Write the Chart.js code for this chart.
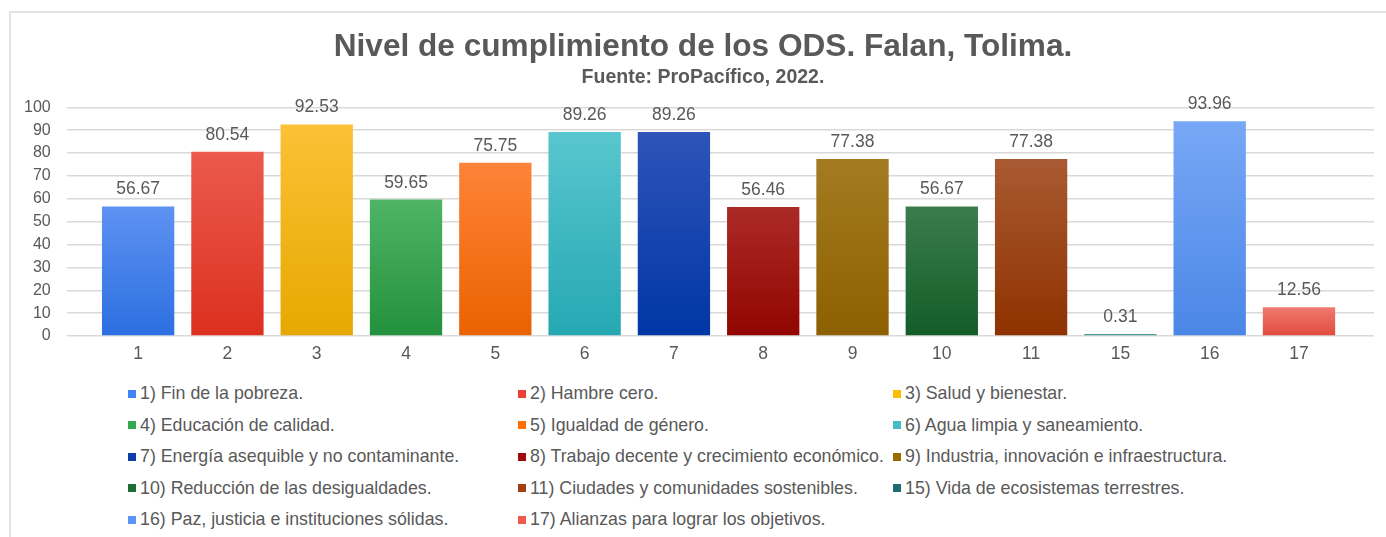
<!DOCTYPE html>
<html lang="es">
<head>
  <meta charset="UTF-8">
  <title>Nivel de cumplimiento de los ODS. Falan, Tolima.</title>
  <style>
    body {
      margin: 0;
      width: 1386px;
      height: 537px;
      background: #fff;
      font-family: "Liberation Sans", Arial, sans-serif;
      overflow: hidden;
    }
    .frame {
      position: absolute;
      left: 9px;
      top: 11px;
      right: 0;
      bottom: 0;
      border-top: 2px solid #e3e3e3;
      border-left: 2px solid #e3e3e3;
    }
    #wrap {
      position: absolute;
      left: 8px;
      top: 12px;
      width: 1402px;
      height: 363px;
    }
    #legend {
      position: absolute;
      left: 128px;
      top: 378px;
      display: grid;
      grid-template-columns: 390px 375px 420px;
      grid-auto-rows: 31.5px;
      color: #595959;
      font-size: 17.8px;
    }
    #legend .item {
      display: flex;
      align-items: center;
      white-space: nowrap;
    }
    #legend .box {
      width: 8px;
      height: 8px;
      margin-right: 4px;
      flex: none;
    }
  </style>
</head>
<body>
  <div class="frame"></div>
  <div id="wrap"><canvas id="odsChart"></canvas></div>
  <div id="legend"></div>

  <script src="https://cdn.jsdelivr.net/npm/chart.js"></script>
  <script>
    // datos
    const categories = ['1', '2', '3', '4', '5', '6', '7', '8', '9', '10', '11', '15', '16', '17'];
    const values = [56.67, 80.54, 92.53, 59.65, 75.75, 89.26, 89.26, 56.46, 77.38, 56.67, 77.38, 0.31, 93.96, 12.56];
    const legendNames = [
      '1) Fin de la pobreza.',
      '2) Hambre cero.',
      '3) Salud y bienestar.',
      '4) Educación de calidad.',
      '5) Igualdad de género.',
      '6) Agua limpia y saneamiento.',
      '7) Energía asequible y no contaminante.',
      '8) Trabajo decente y crecimiento económico.',
      '9) Industria, innovación e infraestructura.',
      '10) Reducción de las desigualdades.',
      '11) Ciudades y comunidades sostenibles.',
      '15) Vida de ecosistemas terrestres.',
      '16) Paz, justicia e instituciones sólidas.',
      '17) Alianzas para lograr los objetivos.'
    ];
    const yTicks = [0, 10, 20, 30, 40, 50, 60, 70, 80, 90, 100];

    // colores: arriba (claro) y abajo (oscuro) de cada barra, y el de la leyenda
    const topColors = ['#5e92f2', '#eb5a4c', '#fcc136', '#4fb466', '#ff8338', '#58c6ce', '#2e54b8', '#ab2a26', '#a47b22', '#3a7d4c', '#a95a32', '#6aa9ab', '#78a8f6', '#f07a70'];
    const bottomColors = ['#2c6fe0', '#dc3020', '#e6a800', '#23913d', '#ea6200', '#25a8b3', '#0036a6', '#920500', '#8d6000', '#135c28', '#8e3200', '#4f9a9d', '#4b86e6', '#e24a3e'];
    const legendColors = ['#4285f4', '#ea4335', '#fbbc04', '#34a853', '#ff6d01', '#46bdc6', '#0b3ea8', '#a20b0b', '#9a6b00', '#1e6b34', '#a0420e', '#1d6d73', '#5b95f9', '#ee5a50'];

    const FONT = '"Liberation Sans", Arial, sans-serif';
    const GREY = '#595959';

    // etiquetas de valor encima de cada barra
    const valueLabels = {
      id: 'valueLabels',
      afterDatasetsDraw(chart) {
        const ctx = chart.ctx;
        const meta = chart.getDatasetMeta(0);
        ctx.save();
        ctx.fillStyle = GREY;
        ctx.font = '17.5px ' + FONT;
        ctx.textAlign = 'center';
        ctx.textBaseline = 'alphabetic';
        meta.data.forEach((bar, i) => {
          ctx.fillText(values[i].toFixed(2), bar.x, bar.y - 12);
        });
        ctx.restore();
      }
    };

    const ctx = document.getElementById('odsChart').getContext('2d');
    const odsChart = new Chart(ctx, {
      type: 'bar',
      data: {
        datasets: [{
          data: values.map((v, i) => ({ x: i, y: v })),
          backgroundColor: (c) => {
            const i = c.dataIndex;
            const chart = c.chart;
            if (!chart.chartArea || c.parsed == null) return legendColors[i];
            const y = chart.scales.y;
            const top = y.getPixelForValue(c.parsed.y);
            const bottom = y.getPixelForValue(0);
            if (bottom - top < 1) return bottomColors[i];
            const g = chart.ctx.createLinearGradient(0, top, 0, bottom);
            g.addColorStop(0, topColors[i]);
            g.addColorStop(1, bottomColors[i]);
            return g;
          },
          borderWidth: 0,
          minBarLength: 2,
          barPercentage: 0.81,
          categoryPercentage: 1
        }]
      },
      options: {
        responsive: true,
        maintainAspectRatio: false,
        animation: false,
        layout: { padding: { left: 0, right: 12, top: 0, bottom: 2 } },
        plugins: {
          legend: { display: false },
          tooltip: { enabled: false },
          title: {
            display: true,
            text: 'Nivel de cumplimiento de los ODS. Falan, Tolima.',
            color: GREY,
            font: { family: FONT, size: 31.6, weight: 'bold' },
            padding: { top: 16, bottom: 0 }
          },
          subtitle: {
            display: true,
            text: 'Fuente: ProPacífico, 2022.',
            color: GREY,
            font: { family: FONT, size: 19.5, weight: 'bold' },
            padding: { top: 0, bottom: 18 }
          }
        },
        scales: {
          x: {
            type: 'linear',
            offset: false,
            min: -0.8,
            max: 13.84,
            grid: { display: false, drawTicks: false, offset: false },
            border: { display: false },
            afterBuildTicks: (axis) => {
              axis.ticks = categories.map((c, i) => ({ value: i }));
            },
            ticks: {
              autoSkip: false,
              maxRotation: 0,
              padding: 8,
              color: GREY,
              font: { family: FONT, size: 17.5 },
              callback: (v) => categories[v] !== undefined ? categories[v] : ''
            }
          },
          y: {
            min: 0,
            max: 100,
            afterBuildTicks: (axis) => {
              axis.ticks = yTicks.map(v => ({ value: v }));
            },
            grid: { color: '#d9d9d9', lineWidth: 1.5, drawTicks: false },
            border: { display: false },
            ticks: {
              autoSkip: false,
              padding: 16,
              color: GREY,
              font: { family: FONT, size: 16 }
            }
          },
          // eje vacío a la derecha: deja el margen derecho del área de trazado
          margen: {
            type: 'linear',
            position: 'right',
            grid: { display: false, drawTicks: false },
            border: { display: false },
            ticks: { display: false },
            afterFit: (axis) => { axis.width = 24; }
          }
        }
      },
      plugins: [valueLabels]
    });

    // leyenda en tres columnas
    const legend = document.getElementById('legend');
    legendNames.forEach((name, i) => {
      const item = document.createElement('div');
      item.className = 'item';
      item.innerHTML = `<span class="box" style="background:${legendColors[i]}"></span><span>${name}</span>`;
      legend.appendChild(item);
    });
  </script>
</body>
</html>
